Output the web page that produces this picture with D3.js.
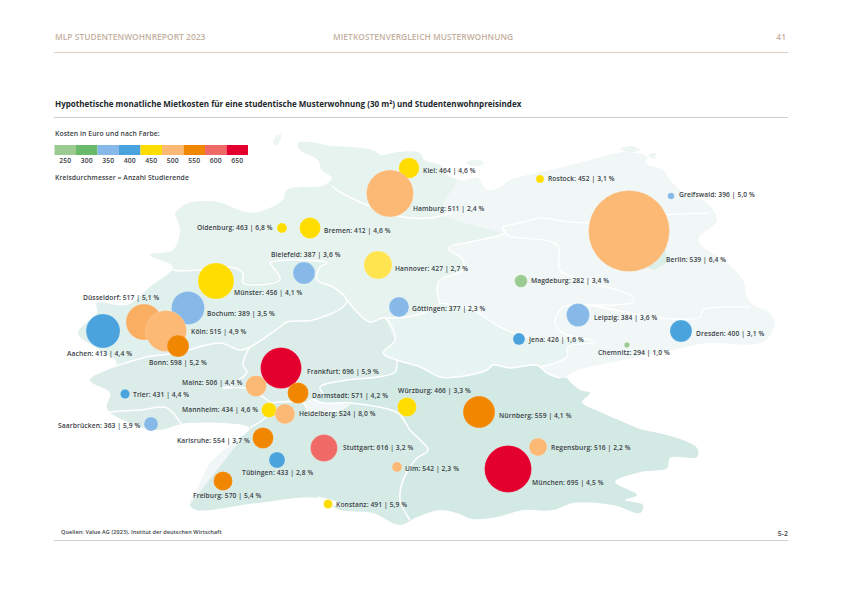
<!DOCTYPE html>
<html>
<head>
<meta charset="utf-8">
<title>Mietkostenvergleich Musterwohnung</title>
<script src="https://cdn.jsdelivr.net/npm/d3@7/dist/d3.min.js"></script>
<style>
  html, body { margin: 0; padding: 0; background: #fff; }
  svg { display: block; }
  text { font-family: "Open Sans", sans-serif; }
  .label { font-size: 6.7px; font-weight: 600; fill: #3a4146; letter-spacing: 0.1px; }
  .note { font-size: 6.8px; font-weight: 600; fill: #3a4146; letter-spacing: 0.08px; }
  .head { font-size: 8.4px; font-weight: 600; fill: #c4b1a1; letter-spacing: 0.05px; }
</style>
</head>
<body>
<svg id="chart" width="843" height="596"></svg>
<script>
var cities = ["Kiel", "Hamburg", "Rostock", "Greifswald", "Berlin", "Oldenburg", "Bremen", "Bielefeld", "Hannover", "Münster", "Göttingen", "Bochum", "Düsseldorf", "Köln", "Aachen", "Bonn", "Mainz", "Frankfurt", "Darmstadt", "Trier", "Mannheim", "Heidelberg", "Saarbrücken", "Karlsruhe", "Stuttgart", "Tübingen", "Ulm", "Freiburg", "Konstanz", "Würzburg", "Nürnberg", "Regensburg", "München", "Magdeburg", "Leipzig", "Dresden", "Jena", "Chemnitz"];
var rents = [464, 511, 452, 396, 539, 463, 412, 387, 427, 456, 377, 389, 517, 515, 413, 598, 506, 696, 571, 431, 434, 524, 363, 554, 616, 433, 542, 570, 491, 466, 559, 516, 695, 282, 384, 400, 426, 294];
var rentIndex = [4.6, 2.4, 3.1, 5.0, 6.4, 6.8, 4.6, 3.6, 2.7, 4.1, 2.3, 3.5, 5.1, 4.9, 4.4, 5.2, 4.4, 5.9, 4.2, 4.4, 4.6, 8.0, 5.9, 3.7, 3.2, 2.8, 2.3, 5.4, 5.9, 3.3, 4.1, 2.2, 4.5, 3.4, 3.6, 3.1, 1.6, 1.0];
// colour class as printed, it does not always follow the rent
var costBands = [450, 500, 450, 350, 500, 450, 450, 350, 450, 450, 350, 350, 500, 500, 400, 550, 500, 650, 550, 400, 450, 500, 350, 550, 600, 400, 500, 550, 450, 450, 550, 500, 650, 250, 350, 400, 400, 250];
// estimated from the circle areas
var students = [12900, 67300, 1950, 1330, 200000, 3050, 13400, 14750, 23900, 39500, 12200, 33200, 39500, 51200, 35200, 14750, 13400, 51200, 13400, 2700, 6860, 12200, 5970, 13400, 22200, 7800, 3050, 11000, 2470, 11000, 31200, 9870, 67300, 4840, 16100, 14750, 4390, 890];
var lons = [9.787, 9.533, 11.533, 13.28, 12.72, 8.093, 8.467, 8.387, 9.373, 7.213, 9.653, 6.84, 6.253, 6.547, 5.707, 6.707, 7.747, 8.08, 8.307, 6.0, 7.92, 8.133, 6.347, 7.84, 8.653, 8.027, 9.627, 7.307, 8.707, 9.76, 10.72, 11.507, 11.107, 11.28, 12.04, 13.413, 11.253, 12.693];
var lats = [54.24, 53.73, 54.02, 53.68, 52.98, 53.04, 53.04, 52.14, 52.30, 51.98, 51.46, 51.44, 51.16, 50.98, 50.98, 50.68, 49.88, 50.24, 49.74, 49.72, 49.40, 49.32, 49.12, 48.84, 48.64, 48.40, 48.26, 47.98, 47.52, 49.46, 49.36, 48.66, 48.22, 51.98, 51.30, 50.98, 50.82, 50.70];

var bandTicks = [250, 300, 350, 400, 450, 500, 550, 600, 650];
var bandColors = ["#9ccb92", "#6aba6c", "#86b9e8", "#4ba3dd", "#ffdd00", "#fbb975", "#f18700", "#ef6a66", "#e4002e"];

// label placement relative to the circle centre
var labelOffsets = {
  "Kiel": [14, 3], "Hamburg": [23, 15.5], "Rostock": [8, 0], "Greifswald": [8, -1], "Berlin": [37, 29],
  "Oldenburg": [-85, 0], "Bremen": [14, 3], "Bielefeld": [-33, -18], "Hannover": [17, 4], "Münster": [18, 12],
  "Göttingen": [13, 2], "Bochum": [19, 6], "Düsseldorf": [-61, -24], "Köln": [25, 1], "Aachen": [-36, 23],
  "Bonn": [-29, 17], "Frankfurt": [26, 4], "Mainz": [-74, -3], "Darmstadt": [14, 3], "Trier": [8, 1],
  "Mannheim": [-87, 0], "Heidelberg": [14, 0], "Saarbrücken": [-93, 2], "Karlsruhe": [-86, 3], "Stuttgart": [19, 0],
  "Tübingen": [-35, 13], "Ulm": [8, 2], "Freiburg": [-30, 15], "Konstanz": [8, 1], "Würzburg": [-9, -16],
  "Nürnberg": [20, 4], "Regensburg": [13, 1], "München": [24, 14], "Magdeburg": [10, 0], "Leipzig": [16, 3],
  "Dresden": [15, 3], "Jena": [10, 1], "Chemnitz": [-29, 8]
};
var fillOverrides = { "Hannover": "#ffe44f", "Düsseldorf": "#f9ae62" };

// basemap, page pixels
var outline = [[176,212],[186,204],[205,201],[222,203],[236,209],[252,213],[270,208],[283,200],[287,190],[300,187],[322,186],[332,178],[322,170],[318,160],[300,150],[298,143],[310,142],[330,146],[350,147],[372,150],[382,155],[398,152],[420,153],[424,160],[440,165],[447,175],[462,180],[478,178],[487,190],[500,187],[510,180],[537,173],[563,167],[590,160],[617,153],[630,152],[647,157],[645,163],[663,170],[670,180],[677,187],[690,200],[703,200],[717,220],[698,240],[727,263],[743,280],[747,297],[753,305],[768,312],[775,322],[763,342],[707,343],[673,350],[623,360],[573,372],[567,377],[580,390],[590,393],[582,402],[600,412],[623,422],[643,430],[667,435],[697,448],[697,457],[670,458],[667,468],[640,472],[615,482],[637,495],[625,500],[643,505],[640,513],[613,505],[573,503],[553,510],[523,510],[497,517],[473,519],[457,513],[440,510],[417,517],[400,525],[373,513],[340,510],[317,498],[257,503],[197,510],[190,505],[200,483],[210,463],[237,440],[250,428],[187,423],[157,430],[117,417],[107,408],[110,393],[90,380],[117,363],[100,350],[78,333],[97,313],[97,303],[127,305],[150,287],[173,267],[150,255],[173,250],[180,230],[175,213]];
var islands = [
  [[275,137],[281,134],[278,145],[273,143]],
  [[467,162],[480,160],[484,164],[470,166]],
  [[620,148],[632,146],[640,150],[628,152]],
  [[648,155],[656,153],[654,159]],
  [[680,192],[690,194],[696,199],[686,199]]
];
var lake = [[317,497],[335,501],[345,507],[325,503]];

var regions = [
  { fill: "#e7f3ef", pts: [[140,130],[470,130],[455,185],[445,200],[440,216],[502,233],[470,242],[448,248],[463,260],[463,270],[440,280],[437,290],[440,303],[430,310],[407,317],[385,318],[370,322],[357,312],[347,300],[333,287],[317,280],[320,267],[327,263],[293,260],[270,263],[273,267],[280,280],[243,283],[243,273],[230,267],[197,270],[173,270],[150,260]] },
  { fill: "#e0f0ec", pts: [[60,300],[150,255],[173,270],[197,270],[230,267],[243,273],[243,283],[280,280],[273,267],[270,263],[293,260],[327,263],[320,267],[317,280],[333,287],[347,300],[343,307],[313,320],[287,322],[280,327],[250,347],[240,350],[220,343],[177,353],[147,357],[110,368],[70,370]] },
  { fill: "#dcede9", pts: [[60,370],[110,368],[147,357],[177,353],[220,343],[240,350],[250,347],[280,327],[287,322],[313,320],[343,307],[347,300],[357,312],[370,322],[385,318],[395,340],[383,353],[397,360],[395,372],[377,377],[347,380],[320,387],[323,395],[313,398],[303,403],[310,413],[270,413],[250,440],[60,440]] },
  { fill: "#d7ebe6", pts: [[170,530],[250,428],[270,413],[270,403],[303,403],[310,413],[333,412],[350,403],[398,413],[410,430],[428,450],[417,458],[410,467],[402,483],[400,500],[413,530]] },
  { fill: "#d3e9e4", pts: [[320,387],[347,380],[377,377],[395,372],[397,360],[420,367],[440,377],[457,377],[487,370],[493,365],[510,368],[537,365],[547,373],[560,378],[720,380],[720,530],[413,530],[400,500],[402,483],[410,467],[417,458],[428,450],[410,430],[398,413],[350,403],[323,403],[313,398],[323,395]] },
  { fill: "#e8f4f1", pts: [[385,318],[407,317],[430,310],[440,303],[473,310],[500,327],[530,338],[568,338],[597,341],[568,347],[567,357],[540,367],[537,365],[510,368],[493,365],[487,370],[457,377],[440,377],[420,367],[397,360],[383,353],[395,340]] },
  { fill: "#dcefe9", pts: [[600,215],[660,225],[668,262],[655,270],[600,255]] }
];

var borders = [
  [[332,186],[340,192],[367,205],[403,217],[430,218],[440,216],[452,213]],
  [[502,227],[523,222],[540,218],[570,222],[590,223],[663,215],[710,213]],
  [[502,227],[505,233],[470,242],[448,248],[463,260],[463,270],[440,280],[437,290],[440,303]],
  [[502,227],[507,235],[557,245],[560,270],[583,280],[633,297],[633,302],[613,305],[590,305],[563,307],[555,323],[563,333],[595,342],[568,347],[567,357],[540,367]],
  [[590,305],[630,313],[657,318],[700,317],[703,310],[750,307]],
  [[440,303],[473,310],[500,327],[530,338],[568,338]],
  [[560,378],[547,373],[537,365],[510,368],[493,365],[487,370],[457,377],[440,377],[420,367],[397,360],[383,353],[395,340],[385,318],[370,322],[357,312],[347,300]],
  [[385,318],[407,317],[430,310],[440,303]],
  [[150,258],[173,270],[197,270],[230,267],[243,273],[243,283],[280,280],[273,267],[270,263],[293,260],[327,263],[320,267],[317,280],[333,287],[347,300],[343,307],[313,320],[287,322],[280,327],[250,347],[240,350],[220,343],[177,353],[147,357],[110,368]],
  [[250,347],[247,352],[243,365],[247,372],[227,387],[223,388],[247,388],[260,395],[270,403],[270,413],[250,428]],
  [[107,412],[140,410],[167,408],[183,427]],
  [[270,403],[303,403],[310,413],[333,412],[350,403],[323,403],[313,398],[323,395],[320,387],[347,380],[377,377],[395,372],[397,360]],
  [[350,403],[398,413],[410,430],[428,450],[417,458],[410,467],[402,483],[400,500],[410,520]]
];

var svg = d3.select("#chart");

// same stretch as the printed map
var lonScale = d3.scaleLinear().domain([5, 15]).range([50, 800]);
var latScale = d3.scaleLinear().domain([55, 48]).range([130, 480]);
var radius = d3.scaleSqrt().domain([0, 200000]).range([0, 40.5]);
var color = d3.scaleOrdinal().domain(bandTicks).range(bandColors);

var line = d3.line();
var softLine = d3.line().curve(d3.curveCatmullRom.alpha(0.5));
var softShape = d3.line().curve(d3.curveCatmullRomClosed.alpha(0.5));
var closedPath = function(pts) { return line(pts) + "Z"; };

/* Page furniture */
svg.append("text").attr("class", "head").attr("x", 55).attr("y", 40).text("MLP STUDENTENWOHNREPORT 2023");
svg.append("text").attr("class", "head").attr("x", 333).attr("y", 40).text("MIETKOSTENVERGLEICH MUSTERWOHNUNG");
svg.append("text").attr("class", "head").attr("x", 786).attr("y", 40).attr("text-anchor", "end").text("41");
svg.append("line").attr("x1", 54).attr("x2", 788).attr("y1", 52.5).attr("y2", 52.5).attr("stroke", "#dccfc5");

svg.append("text").attr("x", 55).attr("y", 107)
  .style("font-size", "8.05px").style("font-weight", 700).style("fill", "#22282d")
  .text("Hypothetische monatliche Mietkosten für eine studentische Musterwohnung (30 m²) und Studentenwohnpreisindex");
svg.append("line").attr("x1", 54).attr("x2", 788).attr("y1", 117.5).attr("y2", 117.5).attr("stroke", "#cfcfcf");

/* Basemap */
var defs = svg.append("defs");
defs.append("clipPath").attr("id", "land").append("path").attr("d", softShape(outline));

var map = svg.append("g");
map.append("path").attr("d", softShape(outline)).attr("fill", "#f0f7f6");
map.selectAll("path.island").data(islands).enter().append("path")
  .attr("class", "island").attr("d", softShape).attr("fill", "#eef6f4");

var inner = map.append("g").attr("clip-path", "url(#land)");
inner.selectAll("path.region").data(regions).enter().append("path")
  .attr("class", "region")
  .attr("d", function(d) { return closedPath(d.pts); })
  .attr("fill", function(d) { return d.fill; });
inner.selectAll("path.border").data(borders).enter().append("path")
  .attr("class", "border")
  .attr("d", softLine)
  .attr("fill", "none").attr("stroke", "#fff").attr("stroke-width", 1.5);
map.append("path").attr("d", softShape(lake)).attr("fill", "#fff");

/* Legend */
svg.append("text").attr("class", "note").attr("x", 55).attr("y", 135.5).text("Kosten in Euro und nach Farbe:");

var legendScale = d3.scaleBand().domain(bandTicks).range([54.5, 248]);
svg.selectAll("rect.band").data(bandTicks).enter().append("rect")
  .attr("class", "band")
  .attr("x", function(d) { return legendScale(d); })
  .attr("y", 145)
  .attr("width", legendScale.bandwidth())
  .attr("height", 10)
  .attr("fill", function(d) { return color(d); });

var legendAxis = svg.append("g").attr("transform", "translate(0,155)")
  .call(d3.axisBottom(legendScale).tickSize(0).tickPadding(3));
legendAxis.select(".domain").remove();
legendAxis.selectAll("text")
  .attr("class", "note")
  .style("font-family", '"Open Sans", sans-serif');

svg.append("text").attr("class", "note").attr("x", 55).attr("y", 179.5).text("Kreisdurchmesser = Anzahl Studierende");

/* Circles in array order, so Köln sits over Düsseldorf and Bochum, Bonn over Köln */
var data = cities.map(function(name, i) {
  return {
    name: name,
    rent: rents[i],
    share: rentIndex[i],
    band: costBands[i],
    students: students[i],
    x: lonScale(lons[i]),
    y: latScale(lats[i])
  };
});

var shareFormat = function(v) { return v.toFixed(1).replace(".", ","); };

svg.append("g").selectAll("circle").data(data).enter().append("circle")
  .attr("cx", function(d) { return d.x; })
  .attr("cy", function(d) { return d.y; })
  .attr("r", function(d) { return radius(d.students); })
  .attr("fill", function(d) { return fillOverrides[d.name] || color(d.band); })
  .attr("stroke", "#fff").attr("stroke-opacity", 0.35).attr("stroke-width", 0.5);

svg.append("g").selectAll("text").data(data).enter().append("text")
  .attr("class", "label")
  .attr("x", function(d) { return d.x + labelOffsets[d.name][0]; })
  .attr("y", function(d) { return d.y + labelOffsets[d.name][1]; })
  .attr("dy", "0.35em")
  .text(function(d) { return d.name + ": " + d.rent + " | " + shareFormat(d.share) + " %"; });

/* Footer */
svg.append("text").attr("class", "note").attr("x", 61).attr("y", 533.5)
  .style("font-size", "5.5px")
  .text("Quellen: Value AG (2023), Institut der deutschen Wirtschaft");
svg.append("text").attr("class", "note").attr("x", 788).attr("y", 535.5).attr("text-anchor", "end").text("5-2");
svg.append("line").attr("x1", 54).attr("x2", 788).attr("y1", 540.5).attr("y2", 540.5).attr("stroke", "#cfcfcf");
</script>
</body>
</html>
